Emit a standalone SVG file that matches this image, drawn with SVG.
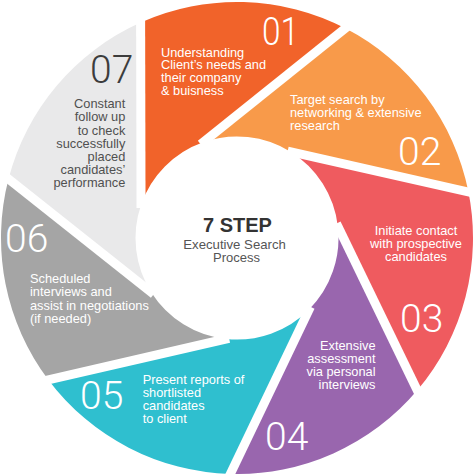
<svg xmlns="http://www.w3.org/2000/svg" width="474" height="474" viewBox="0 0 474 474">
<style>
.num{font-family:Roboto,"Liberation Sans",sans-serif;font-weight:300;font-size:39px;fill:#ffffff}
.txt{font-family:"Liberation Sans",Arial,sans-serif;font-size:12.8px;fill:#ffffff}
.dark{fill:#505050}
.gap{stroke:#ffffff;stroke-width:9;fill:none}
</style>
<rect width="474" height="474" fill="#ffffff"/>
<g id="step01">
<path d="M141.03,204.95 L140.63,22.57 A236,236 0 0 1 345.35,28.34 L203.0,142.36 A101.5,101.5 0 0 0 141.03,204.95 Z" fill="#F1632A"/>
<text class="num" x="262" y="45" textLength="37" lengthAdjust="spacingAndGlyphs">01</text>
<text class="txt"><tspan x="161" y="56.5">Understanding</tspan><tspan x="161" y="69.4">Client’s needs and</tspan><tspan x="161" y="82.3">their company</tspan><tspan x="161" y="95.2">&amp; buisness</tspan></text>
</g>
<g id="step02">
<path d="M203.0,142.36 L345.35,28.34 A236,236 0 0 1 468.47,192.0 L290.57,151.79 A101.5,101.5 0 0 0 203.0,142.36 Z" fill="#F89A4A"/>
<text class="num" x="398" y="165">02</text>
<text class="txt"><tspan x="290" y="103.5">Target search by</tspan><tspan x="290" y="116.6">networking &amp; extensive</tspan><tspan x="290" y="129.7">research</tspan></text>
</g>
<g id="step03">
<path d="M290.57,151.79 L468.47,192.0 A236,236 0 0 1 417.25,390.33 L337.81,226.14 A101.5,101.5 0 0 0 290.57,151.79 Z" fill="#EF5B5F"/>
<text class="num" x="400" y="332">03</text>
<text class="txt" text-anchor="middle"><tspan x="416" y="235">Initiate contact</tspan><tspan x="416" y="248">with prospective</tspan><tspan x="416" y="261">candidates</tspan></text>
</g>
<g id="step04">
<path d="M337.81,226.14 L417.25,390.33 A236,236 0 0 1 230.37,473.91 L309.13,309.41 A101.5,101.5 0 0 0 337.81,226.14 Z" fill="#9966AE"/>
<text class="num" x="265" y="450">04</text>
<text class="txt" text-anchor="end"><tspan x="375.5" y="350">Extensive</tspan><tspan x="375.5" y="362.9">assessment</tspan><tspan x="375.5" y="375.8">via personal</tspan><tspan x="375.5" y="388.7">interviews</tspan></text>
</g>
<g id="step05">
<path d="M309.13,309.41 L230.37,473.91 A236,236 0 0 1 48.44,379.92 L226.14,338.92 A101.5,101.5 0 0 0 309.13,309.41 Z" fill="#2FBFCF"/>
<text class="num" x="80" y="409">05</text>
<text class="txt"><tspan x="142.7" y="384">Present reports of</tspan><tspan x="142.7" y="397.1">shortlisted</tspan><tspan x="142.7" y="410.2">candidates</tspan><tspan x="142.7" y="423.3">to client</tspan></text>
</g>
<g id="step06">
<path d="M226.14,338.92 L48.44,379.92 A236,236 0 0 1 8.49,179.03 L151.34,292.45 A101.5,101.5 0 0 0 226.14,338.92 Z" fill="#A5A5A5"/>
<text class="num" x="5" y="252">06</text>
<text class="txt"><tspan x="30" y="283.3">Scheduled</tspan><tspan x="30" y="296.4">interviews and</tspan><tspan x="30" y="309.5">assist in negotiations</tspan><tspan x="30" y="322.6">(if needed)</tspan></text>
</g>
<g id="step07">
<path d="M151.34,292.45 L8.49,179.03 A236,236 0 0 1 140.63,22.57 L141.03,204.95 A101.5,101.5 0 0 0 151.34,292.45 Z" fill="#E9E9EA"/>
<text class="num" x="90" y="83" style="fill:#3C3C3C">07</text>
<text class="txt dark" text-anchor="end"><tspan x="125.3" y="108.3">Constant</tspan><tspan x="125.3" y="121.4">follow up</tspan><tspan x="125.3" y="134.5">to check</tspan><tspan x="125.3" y="147.6">successfully</tspan><tspan x="125.3" y="160.7">placed</tspan><tspan x="125.3" y="173.8">candidates’</tspan><tspan x="125.3" y="186.9">performance</tspan></text>
</g>
<g id="gaps">
<line class="gap" x1="141.04" y1="207.95" x2="140.61" y2="14.57"/>
<line class="gap" x1="200.66" y1="144.24" x2="351.59" y2="23.34"/>
<line class="gap" x1="287.64" y1="151.13" x2="476.27" y2="193.76"/>
<line class="gap" x1="336.50" y1="223.44" x2="420.73" y2="397.53"/>
<line class="gap" x1="310.43" y1="306.70" x2="226.92" y2="481.13"/>
<line class="gap" x1="229.06" y1="338.25" x2="40.65" y2="381.72"/>
<line class="gap" x1="153.69" y1="294.32" x2="2.22" y2="174.06"/>
</g>
<g id="center">
<text x="237.5" y="231.7" text-anchor="middle" font-family="Liberation Sans, Arial, sans-serif" font-weight="bold" font-size="20" fill="#333333">7 STEP</text>
<text x="234.6" y="248.8" text-anchor="middle" font-family="Liberation Sans, Arial, sans-serif" font-size="13.2" fill="#555555">Executive Search</text>
<text x="236.5" y="261.7" text-anchor="middle" font-family="Liberation Sans, Arial, sans-serif" font-size="13" fill="#555555">Process</text>
</g>
</svg>
